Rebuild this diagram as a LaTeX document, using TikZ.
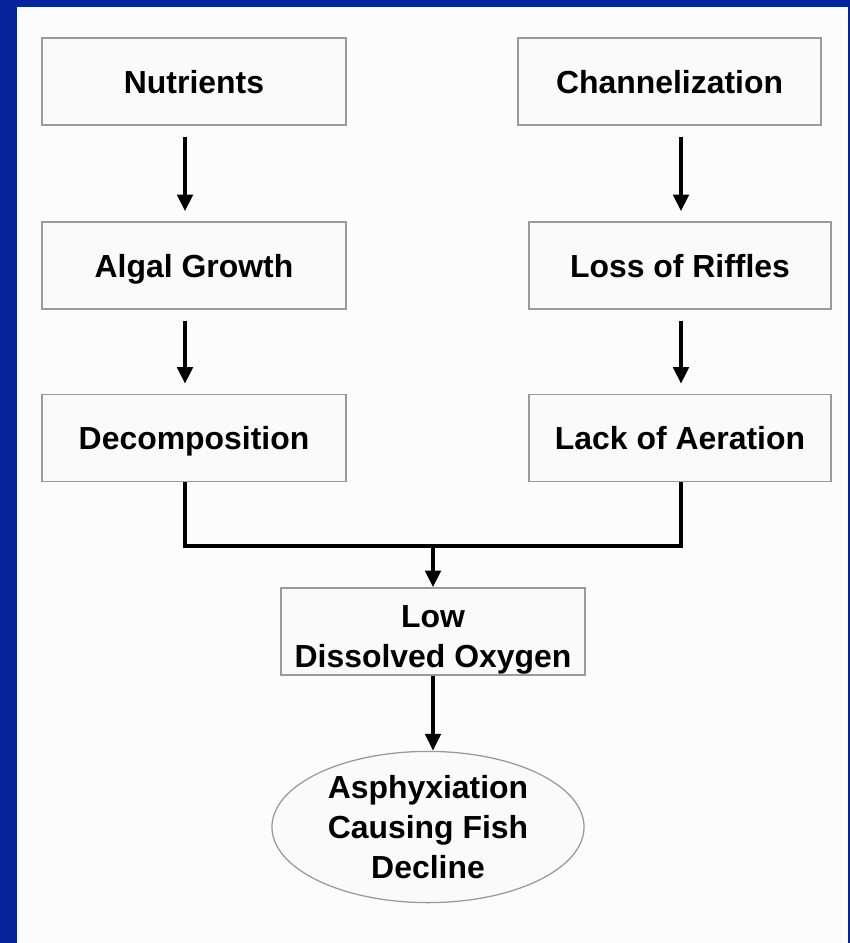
\documentclass[tikz,border=0pt]{standalone}
\usepackage{fontspec}
\setmainfont{Liberation Sans}
\usetikzlibrary{arrows.meta, shapes.geometric}
\definecolor{slideblue}{HTML}{06249A}
\definecolor{boxline}{HTML}{9A9A9A}

\begin{document}
\begin{tikzpicture}[x=0.025cm, y=-0.025cm,
      every node/.style={font=\fontsize{22.7}{28.5}\selectfont\bfseries, align=center},
      box/.style={draw=boxline, line width=0.9pt, fill=white!98!black, minimum width=7.6cm, minimum height=2.175cm, inner sep=0pt, text height=16.4pt, text depth=0pt},
      twoline/.style={text height=, text depth=},
      oval/.style={ellipse, draw=boxline, line width=0.9pt, fill=white!98!black, minimum width=7.8cm, minimum height=3.78cm, inner sep=0pt},
      flow/.style={line width=2.9pt, -{Triangle[length=4.2mm, width=3.8mm]}},
      link/.style={line width=2.9pt}]
    \fill[slideblue] (0,0) rectangle (850,943);
    \fill[white!99!black] (17,7) rectangle (848,943);
    \useasboundingbox (0,0) rectangle (850,943);
    \node[box] (nut) at (194,81.5) {Nutrients};
    \node[box, minimum width=7.575cm] (chan) at (669.5,81.5) {Channelization};
    \node[box] (alg) at (194,265.5) {Algal Growth};
    \node[box, minimum width=7.55cm] (loss) at (680,265.5) {Loss of Riffles};
    \node[box] (dec) at (194,438) {Decomposition};
    \node[box, minimum width=7.55cm] (lack) at (680,438) {Lack of Aeration};
    \node[box, twoline] (low) at (433,631.5) {\rule{0pt}{27pt}Low\\Dissolved Oxygen};
    \node[oval] (asph) at (428,827) {Asphyxiation\\Causing Fish\\Decline};
    \coordinate (lcol) at (185,0);
    \coordinate (rcol) at (681,0);
    \coordinate (mcol) at (433,0);
    \coordinate (join) at (433,546);
    \draw[flow, shorten <=0.28cm, shorten >=0.25cm] (nut.south -| lcol) -- (alg.north -| lcol);
    \draw[flow, shorten <=0.28cm, shorten >=0.25cm] (alg.south -| lcol) -- (dec.north -| lcol);
    \draw[flow, shorten <=0.28cm, shorten >=0.25cm] (chan.south -| rcol) -- (loss.north -| rcol);
    \draw[flow, shorten <=0.28cm, shorten >=0.25cm] (loss.south -| rcol) -- (lack.north -| rcol);
    \draw[link] (dec.south -| lcol) |- (join) -| (lack.south -| rcol);
    \draw[flow] (join) -- (low.north -| mcol);
    \draw[flow] (low.south -| mcol) -- (asph.north -| mcol);
  \end{tikzpicture}
\end{document}
